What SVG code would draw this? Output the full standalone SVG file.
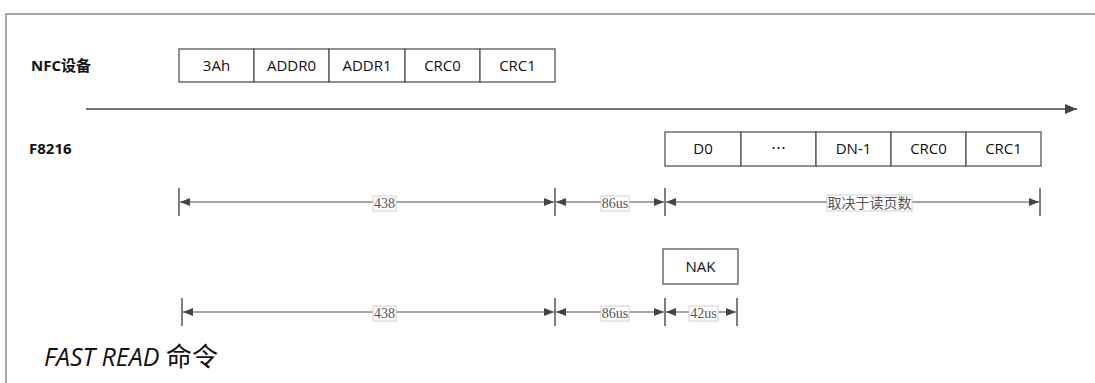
<svg xmlns="http://www.w3.org/2000/svg" width="1095" height="383" viewBox="0 0 1095 383">
<defs>
<style>
.frame{stroke:#8a8a8a;stroke-width:1.5;fill:none}
.box{fill:#fff;stroke:#555;stroke-width:1.3}
.bt{font-family:"Open Sans","Noto Sans",sans-serif;font-size:15px;fill:#111;text-anchor:middle}
.lbl{font-family:"Open Sans","Noto Sans","Noto Sans CJK SC",sans-serif;font-size:15px;font-weight:bold;fill:#111}
.dim{stroke:#888;stroke-width:1.5;fill:none}
.tick{stroke:#555;stroke-width:1.5}
.dl{fill:#fff;stroke:#d0d0d0;stroke-width:1}
.dt{font-family:"Liberation Serif","Noto Sans CJK SC",serif;font-size:14px;fill:#555;text-anchor:middle}
.axis{stroke:#444;stroke-width:1.5;fill:none}
</style>
<marker id="ah" viewBox="0 0 10 8" refX="10" refY="4" markerWidth="10" markerHeight="8" markerUnits="userSpaceOnUse" orient="auto-start-reverse">
<path d="M0,0 L10,4 L0,8 Z" fill="#444"/>
</marker>
<marker id="axh" viewBox="0 0 12 10" refX="12" refY="5" markerWidth="12" markerHeight="10" markerUnits="userSpaceOnUse" orient="auto">
<path d="M0,0 L12,5 L0,10 Z" fill="#444"/>
</marker>
</defs>
<rect width="1095" height="383" fill="#fff"/>
<path class="frame" d="M6,383 V14 H1095"/>

<g id="label-nfc"><text class="lbl" x="31" y="71">NFC设备</text></g>
<g id="label-f8216"><text class="lbl" x="29" y="154">F8216</text></g>

<g id="nfc-3Ah"><rect class="box" x="179" y="49" width="75" height="33"/><text class="bt" x="216.5" y="71">3Ah</text></g>
<g id="nfc-ADDR0"><rect class="box" x="254" y="49" width="75" height="33"/><text class="bt" x="291.5" y="71">ADDR0</text></g>
<g id="nfc-ADDR1"><rect class="box" x="329" y="49" width="76" height="33"/><text class="bt" x="367" y="71">ADDR1</text></g>
<g id="nfc-CRC0"><rect class="box" x="405" y="49" width="75" height="33"/><text class="bt" x="442.5" y="71">CRC0</text></g>
<g id="nfc-CRC1"><rect class="box" x="480" y="49" width="75" height="33"/><text class="bt" x="517.5" y="71">CRC1</text></g>

<g id="f-D0"><rect class="box" x="665" y="132" width="76" height="34"/><text class="bt" x="703" y="154">D0</text></g>
<g id="f-dots"><rect class="box" x="741" y="132" width="75" height="34"/><text class="bt" x="778.5" y="154" style="font-family:'Noto Sans CJK SC',sans-serif">…</text></g>
<g id="f-DN1"><rect class="box" x="816" y="132" width="75" height="34"/><text class="bt" x="853.5" y="154">DN-1</text></g>
<g id="f-CRC0"><rect class="box" x="891" y="132" width="75" height="34"/><text class="bt" x="928.5" y="154">CRC0</text></g>
<g id="f-CRC1"><rect class="box" x="966" y="132" width="75" height="34"/><text class="bt" x="1003.5" y="154">CRC1</text></g>

<g id="f-NAK"><rect class="box" x="663" y="249" width="75" height="35"/><text class="bt" x="700.5" y="272">NAK</text></g>

<g id="connectors">
<line class="axis" x1="86" y1="109" x2="1077" y2="109" marker-end="url(#axh)"/>

<line class="tick" x1="179" y1="188" x2="179" y2="216"/>
<line class="tick" x1="555" y1="188" x2="555" y2="216"/>
<line class="tick" x1="665" y1="188" x2="665" y2="216"/>
<line class="tick" x1="1040" y1="188" x2="1040" y2="216"/>
<line class="dim" x1="180" y1="202" x2="554" y2="202" marker-start="url(#ah)" marker-end="url(#ah)"/>
<line class="dim" x1="556" y1="202" x2="664" y2="202" marker-start="url(#ah)" marker-end="url(#ah)"/>
<line class="dim" x1="666" y1="202" x2="1039" y2="202" marker-start="url(#ah)" marker-end="url(#ah)"/>

<line class="tick" x1="182" y1="298" x2="182" y2="326"/>
<line class="tick" x1="555" y1="298" x2="555" y2="326"/>
<line class="tick" x1="665" y1="298" x2="665" y2="326"/>
<line class="tick" x1="737" y1="298" x2="737" y2="326"/>
<line class="dim" x1="183" y1="312" x2="554" y2="312" marker-start="url(#ah)" marker-end="url(#ah)"/>
<line class="dim" x1="556" y1="312" x2="664" y2="312" marker-start="url(#ah)" marker-end="url(#ah)"/>
<line class="dim" x1="666" y1="312" x2="736" y2="312" marker-start="url(#ah)" marker-end="url(#ah)"/>
</g>

<g id="dim-labels">
<rect class="dl" x="373" y="196" width="23" height="15"/><text class="dt" x="384.5" y="208">438</text>
<rect class="dl" x="601" y="196" width="28" height="15"/><text class="dt" x="615" y="208">86us</text>
<rect class="dl" x="827" y="195" width="85" height="16"/><text class="dt" x="869.5" y="208">取决于读页数</text>
<rect class="dl" x="373" y="306" width="23" height="15"/><text class="dt" x="384.5" y="318">438</text>
<rect class="dl" x="601" y="306" width="28" height="15"/><text class="dt" x="615" y="318">86us</text>
<rect class="dl" x="689" y="306" width="29" height="15"/><text class="dt" x="703.5" y="318">42us</text>
</g>

<g id="title"><text x="44" y="366" style="font-family:'Open Sans','Noto Sans',sans-serif;font-size:25px;font-style:italic;fill:#111">FAST READ <tspan style="font-style:normal;font-family:'Noto Sans CJK SC',sans-serif;font-size:26px">命令</tspan></text></g>
</svg>
